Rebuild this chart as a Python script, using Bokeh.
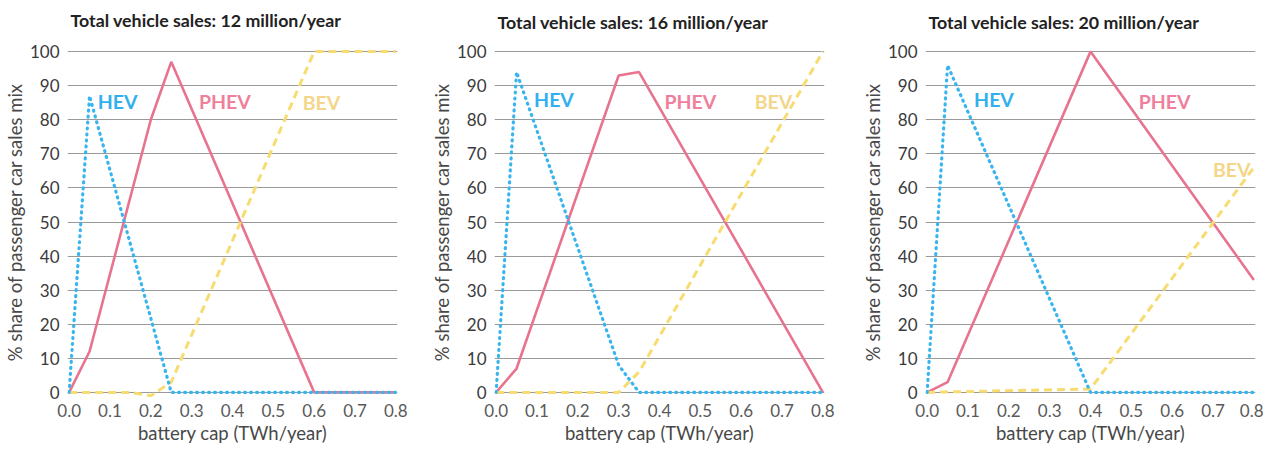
from bokeh.plotting import figure
from bokeh.layouts import row
from bokeh.models import Range1d, FixedTicker
from bokeh.core.properties import value
from bokeh.embed import file_html
from bokeh.resources import INLINE

titles = ["Total vehicle sales: 12 million/year",
          "Total vehicle sales: 16 million/year",
          "Total vehicle sales: 20 million/year"]

# vertices: battery cap (TWh/year) -> % share
# 12 million/year
hev_12_x = [0.0, 0.05, 0.25, 0.8]
hev_12_y = [0, 87, 0, 0]
phev_12_x = [0.0, 0.05, 0.2, 0.25, 0.6, 0.8]
phev_12_y = [0, 12, 80, 97, 0, 0]
bev_12_x = [0.0, 0.15, 0.2, 0.25, 0.6, 0.8]
bev_12_y = [0, 0, -1, 3, 100, 100]

# 16 million/year
hev_16_x = [0.0, 0.05, 0.3, 0.35, 0.8]
hev_16_y = [0, 94, 8, 0, 0]
phev_16_x = [0.0, 0.05, 0.3, 0.35, 0.8]
phev_16_y = [0, 7, 93, 94, 0]
bev_16_x = [0.0, 0.3, 0.35, 0.8]
bev_16_y = [0, 0, 6, 100]

# 20 million/year
hev_20_x = [0.0, 0.05, 0.4, 0.8]
hev_20_y = [0, 96, 0, 0]
phev_20_x = [0.0, 0.05, 0.4, 0.8]
phev_20_y = [0, 3, 100, 33]
bev_20_x = [0.0, 0.4, 0.8]
bev_20_y = [0, 1, 66]

series_names = ["HEV", "PHEV", "BEV"]
label_x = [[0.07, 0.318, 0.572], [0.093, 0.412, 0.633], [0.115, 0.518, 0.70]]
label_y = [[85.5, 85.5, 85.0], [86.0, 85.5, 85.5], [86.0, 85.3, 65.4]]

y_ticks = [0, 10, 20, 30, 40, 50, 60, 70, 80, 90, 100]
x_ticks = [0.0, 0.1, 0.2, 0.3, 0.4, 0.5, 0.6, 0.7, 0.8]

HEV_C = "#38b4ef"
PHEV_C = "#e8738f"
BEV_C = "#f7dc72"
LABEL_C = ["#32b0ee", "#f07f9c", "#f3d68a"]
FONT = "Lato"

data = [
    ((hev_12_x, hev_12_y), (phev_12_x, phev_12_y), (bev_12_x, bev_12_y)),
    ((hev_16_x, hev_16_y), (phev_16_x, phev_16_y), (bev_16_x, bev_16_y)),
    ((hev_20_x, hev_20_y), (phev_20_x, phev_20_y), (bev_20_x, bev_20_y)),
]
# (left, right, top) borders and title padding (left, right, top, bottom)
borders = [(56, 20, 43), (77, 15, 44), (86, 8, 46)]
title_pad = [(0, 0, 3, 16), (0, 0, 6, 14), (0, 0, 8, 14)]

figs = []
for i in range(3):
    hev, phev, bev = data[i]
    bl, br, bt = borders[i]
    p = figure(frame_width=330, frame_height=351,
               x_range=Range1d(-0.004, 0.804), y_range=Range1d(-1.5, 101.5),
               output_backend="svg", toolbar_location=None,
               min_border_left=bl, min_border_right=br, min_border_top=bt,
               min_border_bottom=50, title=titles[i])
    p.outline_line_color = None
    p.background_fill_color = "white"
    p.title.text_font = FONT
    p.title.text_font_size = "17.8px"
    p.title.text_font_style = "bold"
    p.title.text_color = "#222222"
    p.title.align = "left"
    p.title.offset = 3
    p.title.standoff = 0
    p.title.padding = title_pad[i]

    p.xaxis.ticker = FixedTicker(ticks=x_ticks)
    p.yaxis.ticker = FixedTicker(ticks=y_ticks)
    p.xaxis.major_label_overrides = {t: f"{t:.1f}" for t in x_ticks}
    for ax in (p.xaxis, p.yaxis):
        ax.axis_line_color = None
        ax.major_tick_line_color = None
        ax.minor_tick_line_color = None
        ax.major_label_text_font = FONT
        ax.major_label_text_font_size = "17px"
        ax.axis_label_text_font = FONT
        ax.axis_label_text_font_style = "normal"
        ax.axis_label_text_font_size = "18.5px"
        ax.axis_label_text_color = "#484848"
    p.yaxis.major_label_text_color = "#3a3a3a"
    p.xaxis.major_label_text_color = "#5a5a5a"
    p.xaxis.major_label_standoff = 0
    p.yaxis.major_label_standoff = 2
    p.xaxis.axis_label = "battery cap (TWh/year)"
    p.xaxis.axis_label_standoff = 2
    p.yaxis.axis_label = "% share of passenger car sales mix"
    p.yaxis.axis_label_standoff = 1
    p.xgrid.grid_line_color = None
    p.ygrid.grid_line_color = "#9a9a9a"
    p.ygrid.grid_line_width = 1

    p.line(phev[0], phev[1], line_color=PHEV_C, line_width=2.6)
    p.line(bev[0], bev[1], line_color=BEV_C, line_width=3, line_dash="8 5")
    p.line(hev[0], hev[1], line_color=HEV_C, line_width=3.2,
           line_dash="1 5", line_cap="round")

    for j in range(3):
        p.text(x=[label_x[i][j]], y=[label_y[i][j]], text=[series_names[j]],
               text_font=value(FONT), text_font_size="19.5px", text_font_style="bold",
               text_color=LABEL_C[j], text_align="left", text_baseline="middle")
    figs.append(p)

layout = row(*figs, spacing=0)
open("out.html", "w").write(file_html(layout, INLINE))
